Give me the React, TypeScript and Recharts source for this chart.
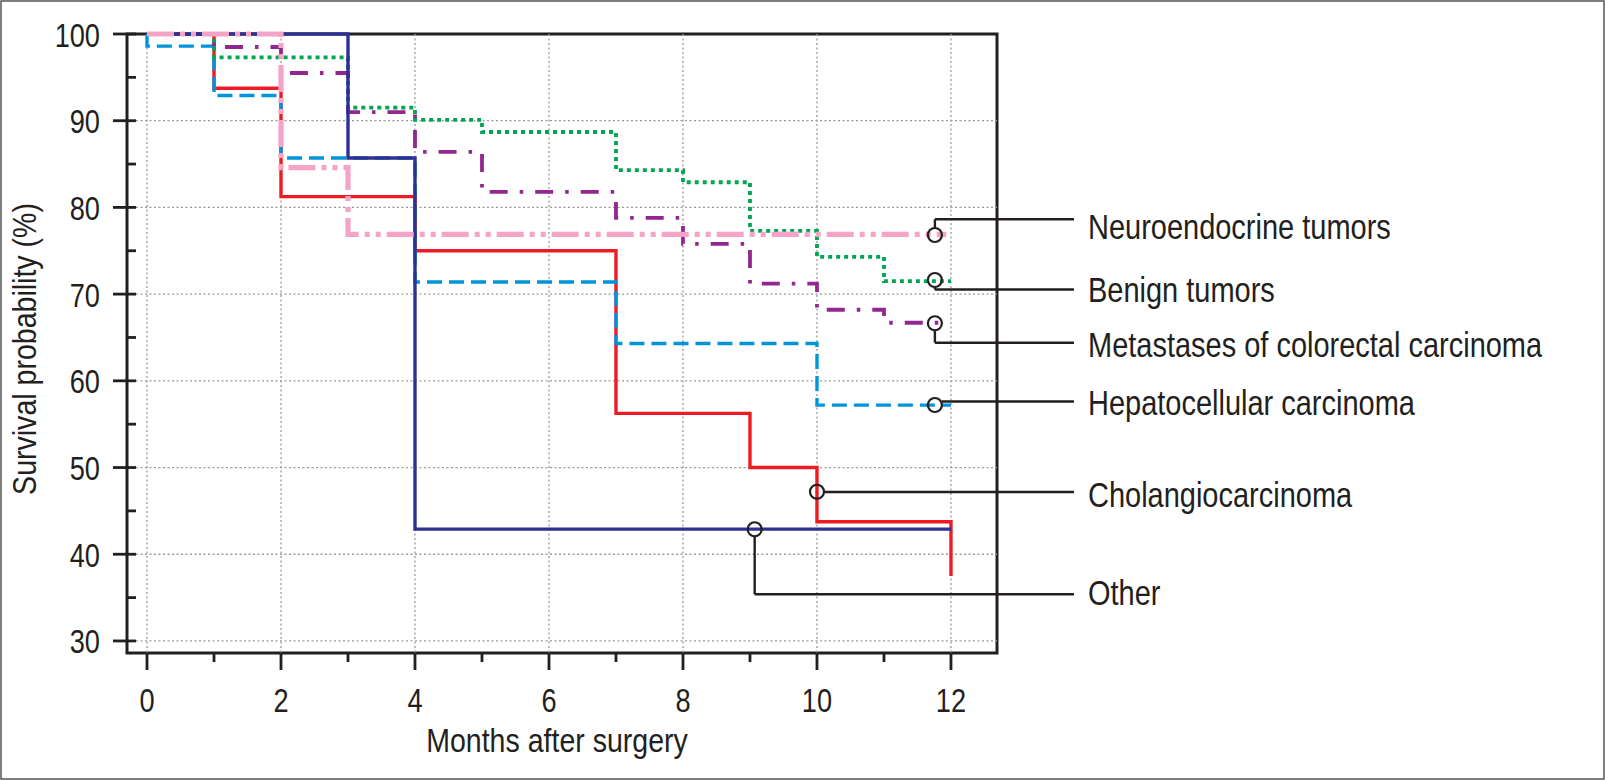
import React from 'react';
import { LineChart, Line, XAxis, YAxis, CartesianGrid, ReferenceLine, ReferenceDot } from 'recharts';

const W = 1605;
const H = 780;
const FONT = "'Liberation Sans', Arial, Helvetica, sans-serif";
const INK = '#231f20';

// axis ticks
const xTicks = [0, 1, 2, 3, 4, 5, 6, 7, 8, 9, 10, 11, 12];
const yTicks = [30, 35, 40, 45, 50, 55, 60, 65, 70, 75, 80, 85, 90, 95, 100];
const xGrid = [0, 2, 4, 6, 8, 10, 12];
const yGrid = [30, 40, 50, 60, 70, 80, 90];

// Kaplan-Meier steps (months, survival %)
const cholangioMonths = [0, 1, 2, 4, 7, 9, 10, 12];
const cholangioSurv = [100, 93.75, 81.25, 75, 56.25, 50, 43.75, 37.5];

const hccMonths = [0, 0, 1, 2, 4, 7, 10, 12];
const hccSurv = [100, 98.6, 92.9, 85.7, 71.4, 64.3, 57.2, 57.2];

const benignMonths = [0, 1, 3, 4, 5, 7, 8, 9, 10, 11, 12];
const benignSurv = [100, 97.3, 91.5, 90.1, 88.7, 84.3, 82.9, 77.3, 74.3, 71.5, 71.5];

const metsMonths = [0, 1, 2, 3, 4, 5, 7, 8, 9, 10, 11, 11.95];
const metsSurv = [100, 98.5, 95.5, 91.0, 86.4, 81.8, 78.8, 75.8, 71.2, 68.2, 66.7, 66.7];

const otherMonths = [0, 3, 4, 12];
const otherSurv = [100, 85.7, 42.9, 42.9];

const neuroMonths = [0, 2, 3, 11.93];
const neuroSurv = [100, 84.6, 76.9, 76.9];

// annotations
const annoLabels = [
  'Neuroendocrine tumors',
  'Benign tumors',
  'Metastases of colorectal carcinoma',
  'Hepatocellular carcinoma',
  'Cholangiocarcinoma',
  'Other',
];
const annoCircleX = [11.76, 11.76, 11.76, 11.76, 10.0, 9.07];
const annoCircleY = [76.82, 71.63, 66.64, 57.21, 47.21, 42.88];
const annoStemFromY = [77.63, 70.82, 65.81, null, null, 42.05];
const annoElbowY = [78.63, 70.53, 64.4, 57.62, 47.18, 35.38];
const annoLineStartX = [11.76, 11.76, 11.76, 11.865, 10.105, 9.07];
const annoLineEndX = 13.836;
const annoTextBaseline = [238.5, 302, 357, 415, 507, 605];

const toSteps = (m: number[], s: number[]) => m.map((t, i) => ({ t, s: s[i] }));

const series = [
  { key: 'chol', data: toSteps(cholangioMonths, cholangioSurv), color: '#ed1c24', width: 3.4, dash: undefined },
  { key: 'hcc', data: toSteps(hccMonths, hccSurv), color: '#0095da', width: 3.4, dash: '15 7' },
  { key: 'benign', data: toSteps(benignMonths, benignSurv), color: '#00a651', width: 3.8, dash: '4 4' },
  { key: 'mets', data: toSteps(metsMonths, metsSurv), color: '#92278f', width: 3.8, dash: '18 12 3.5 12' },
  { key: 'other', data: toSteps(otherMonths, otherSurv), color: '#2e3192', width: 3.4, dash: undefined },
  { key: 'neuro', data: toSteps(neuroMonths, neuroSurv), color: '#f5a3c6', width: 5.2, dash: '27 6 5 6 5 6' },
];

const NarrowText = (props: {
  x: number;
  y: number;
  size: number;
  sx: number;
  anchor?: string;
  rotate?: number;
  children: React.ReactNode;
}) => {
  const { x, y, size, sx, anchor = 'start', rotate = 0, children } = props;
  return (
    <text
      transform={`translate(${x}, ${y}) rotate(${rotate}) scale(${sx}, 1)`}
      x={0}
      y={0}
      textAnchor={anchor as any}
      fontFamily={FONT}
      fontSize={size}
      fill={INK}
    >
      {children}
    </text>
  );
};

const YTick = (props: any) => {
  const { x, y, payload } = props;
  const v = payload.value;
  const major = v % 10 === 0;
  return (
    <g>
      <line x1={major ? x - 14 : x} x2={x + 9} y1={y} y2={y} stroke={INK} strokeWidth={2.8} />
      {major && (
        <NarrowText x={x - 27} y={y + 12.5} size={34} sx={0.8} anchor="end">
          {v}
        </NarrowText>
      )}
    </g>
  );
};

const XTick = (props: any) => {
  const { x, y, payload } = props;
  const v = payload.value;
  const major = v % 2 === 0;
  return (
    <g>
      <line x1={x} x2={x} y1={y} y2={y + (major ? 17 : 9)} stroke={INK} strokeWidth={2.8} />
      {major && (
        <NarrowText x={x} y={y + 59} size={34} sx={0.8} anchor="middle">
          {v}
        </NarrowText>
      )}
    </g>
  );
};

export default function App() {
  const plotLeft = 127;
  const plotTop = 34;
  const plotRight = 997;
  const plotBottom = 653;
  return (
    <div style={{ position: 'absolute', left: 0, top: 0, width: W, height: H, background: '#fff' }}>
      <svg width={W} height={H} style={{ position: 'absolute', left: 0, top: 0 }}>
        <rect x={1} y={1} width={W - 2} height={H - 2} fill="#fff" stroke="#555" strokeWidth={1.5} />
        <rect
          x={plotLeft}
          y={plotTop}
          width={plotRight - plotLeft}
          height={plotBottom - plotTop}
          fill="none"
          stroke={INK}
          strokeWidth={3}
        />
        <NarrowText x={36} y={349} size={34} sx={0.84} anchor="middle" rotate={-90}>
          Survival probability (%)
        </NarrowText>
        <NarrowText x={557} y={752} size={34} sx={0.84} anchor="middle">
          Months after surgery
        </NarrowText>
        {annoLabels.map((l, i) => (
          <NarrowText key={l} x={1088} y={annoTextBaseline[i]} size={35} sx={0.828}>
            {l}
          </NarrowText>
        ))}
      </svg>
      <div style={{ position: 'absolute', left: 0, top: 0 }}>
        <LineChart width={W} height={H} margin={{ top: plotTop, right: W - plotRight, left: 0, bottom: 27 }}>
          <CartesianGrid
            horizontalValues={yGrid}
            verticalValues={xGrid}
            stroke="#9a9a9a"
            strokeWidth={1.3}
            strokeDasharray="2 2.5"
          />
          <XAxis
            type="number"
            dataKey="t"
            domain={[-0.2985, 12.687]}
            ticks={xTicks}
            interval={0}
            height={100}
            axisLine={false}
            tickLine={false}
            tickSize={0}
            tickMargin={0}
            tick={(p: any) => <XTick {...p} />}
          />
          <YAxis
            type="number"
            domain={[28.61, 100]}
            ticks={yTicks}
            interval={0}
            width={127}
            axisLine={false}
            tickLine={false}
            tickSize={0}
            tickMargin={0}
            tick={(p: any) => <YTick {...p} />}
          />
          {series.map((s) => (
            <Line
              key={s.key}
              data={s.data}
              dataKey="s"
              type="stepAfter"
              stroke={s.color}
              strokeWidth={s.width}
              strokeDasharray={s.dash}
              strokeLinecap="butt"
              dot={false}
              activeDot={false}
              isAnimationActive={false}
            />
          ))}
          {annoLabels.map((l, i) =>
            annoStemFromY[i] !== null ? (
              <ReferenceLine
                key={'stem' + i}
                segment={[
                  { x: annoCircleX[i], y: annoStemFromY[i] as number },
                  { x: annoCircleX[i], y: annoElbowY[i] },
                ]}
                stroke={INK}
                strokeWidth={2.4}
                ifOverflow="visible"
              />
            ) : null
          )}
          {annoLabels.map((l, i) => (
            <ReferenceLine
              key={'arm' + i}
              segment={[
                { x: annoLineStartX[i], y: annoElbowY[i] },
                { x: annoLineEndX, y: annoElbowY[i] },
              ]}
              stroke={INK}
              strokeWidth={2.4}
              ifOverflow="visible"
            />
          ))}
          {annoLabels.map((l, i) => (
            <ReferenceDot
              key={'dot' + i}
              x={annoCircleX[i]}
              y={annoCircleY[i]}
              r={7}
              fill="none"
              stroke={INK}
              strokeWidth={2.2}
              ifOverflow="visible"
            />
          ))}
        </LineChart>
      </div>
    </div>
  );
}
